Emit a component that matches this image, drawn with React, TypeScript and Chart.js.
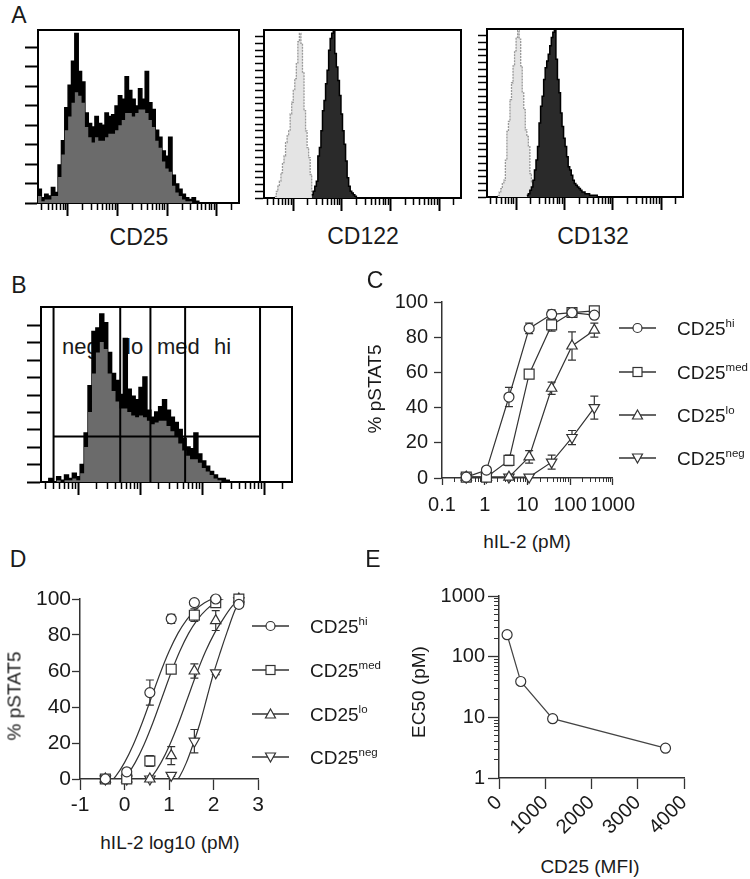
import React, { useEffect, useRef } from "react";
import { Chart, registerables } from "chart.js";

Chart.register(...registerables);

const FONT = "'Liberation Sans', Arial, Helvetica, sans-serif";
const INK = "#1a1a1a";
const LINE = "#333333";

/* ---------------- Panel A: flow-cytometry histograms (% of plot height) ---------------- */
const CD25_BINS = 60;
const CD25_RAW = [8, 3, 5, 4, 9, 6, 22, 36, 55, 68, 82, 98, 76, 70, 52, 46, 44, 50, 46, 45, 52, 50, 51, 56, 62, 60, 73, 65, 60, 56, 66, 60, 76, 58, 54, 42, 38, 30, 27, 38, 16, 11, 8, 5, 3, 2, 3, 1, 0, 0, 0, 0, 0, 0, 0, 0, 0, 0, 0, 0];
const CD25_SMOOTH = [4, 1, 2, 2, 4, 4, 15, 28, 42, 50, 58, 64, 62, 58, 44, 38, 35, 38, 36, 36, 38, 40, 40, 42, 45, 48, 52, 52, 50, 52, 54, 54, 52, 48, 44, 36, 32, 24, 20, 18, 10, 6, 4, 2, 1, 1, 0, 0, 0, 0, 0, 0, 0, 0, 0, 0, 0, 0, 0, 0];

const NARROW_BIN = 2; // channels per bin
const CD122_ISO_START = 14;
const CD122_ISO = [1, 4, 7, 10, 15, 21, 25, 33, 37, 40, 50, 57, 64, 71, 80, 93, 98, 92, 75, 52, 40, 30, 24, 14, 4];
const CD122_START = 62;
const CD122_STAIN = [2, 4, 7, 10, 25, 30, 40, 52, 58, 68, 76, 88, 95, 98, 100, 86, 78, 70, 61, 50, 40, 32, 22, 12, 7, 4, 3, 2, 1];
const CD132_ISO_START = 14;
const CD132_ISO = [1, 3, 5, 8, 10, 22, 39, 45, 58, 68, 78, 87, 95, 99, 94, 78, 62, 52, 40, 36, 30, 14, 9, 3];
const CD132_START = 52;
const CD132_STAIN = [1, 2, 4, 6, 10, 16, 22, 30, 44, 54, 60, 70, 77, 81, 85, 90, 95, 98, 100, 82, 70, 62, 50, 42, 35, 30, 24, 18, 16, 13, 10, 8, 7, 6, 5, 4, 3, 3, 2, 2, 2, 1, 1, 1, 1, 1];

/* ---------------- Panel B: gated CD25 histogram ---------------- */
const GATE_BIN = 4;
const GATE_RAW = [0, 0, 2, 0, 3, 1, 4, 2, 5, 3, 10, 28, 55, 86, 88, 96, 91, 74, 62, 58, 50, 82, 53, 49, 47, 54, 60, 41, 37, 40, 43, 47, 41, 37, 34, 30, 25, 20, 19, 28, 16, 12, 9, 6, 4, 2, 2, 1, 0, 0, 0, 0, 0, 0, 0, 0, 0, 0, 0, 0, 0, 0, 0, 0];
const GATE_SMOOTH = [0, 0, 0, 0, 1, 0, 1, 1, 2, 1, 5, 20, 40, 62, 74, 80, 76, 62, 52, 46, 42, 42, 40, 38, 37, 38, 37, 35, 33, 34, 35, 35, 32, 29, 26, 22, 18, 15, 13, 13, 11, 8, 6, 4, 2, 1, 0, 0, 0, 0, 0, 0, 0, 0, 0, 0, 0, 0, 0, 0, 0, 0, 0, 0];
const GATE_BOUNDS = [12.8, 80.8, 111.6, 147, 223.4];
const GATE_LEVEL = 26;

/* ---------------- Panels C / D: pSTAT5 dose response ---------------- */
const SERIES = ["hi", "med", "lo", "neg"];
const IL2_PM = [0.37, 1.1, 3.7, 11, 37, 111, 370];
const C_HI = [0.5, 4.5, 46, 85, 93, 94, 92.5];
const C_HI_SEM = [0, 0.5, 5.5, 3, 2.5, 1, 1.5];
const C_MED = [0.5, 0.5, 10, 59, 87, 94, 95];
const C_MED_SEM = [0, 0, 3, 1, 3.5, 1, 1];
const C_LO = [0.5, 0.5, 0.5, 12, 51, 75, 84];
const C_LO_SEM = [0, 0, 0, 3.5, 3.5, 8, 4];
const C_NEG = [0.5, 0.5, 0.5, 0.5, 9, 23, 40];
const C_NEG_SEM = [0, 0, 0, 0, 4, 4, 6.5];
const C_X_TICKS = [0.1, 1, 10, 100, 1000];
const PCT_TICKS = [0, 20, 40, 60, 80, 100];

const IL2_LOG = [-0.43, 0.05, 0.57, 1.05, 1.57, 2.05, 2.57];
const D_HI = [0, 4, 48, 89, 98, 100, 97];
const D_HI_SEM = [0, 1.5, 7, 2.5, 0.5, 0.5, 0.5];
const D_MED = [0, 0, 10, 61, 91, 98, 100];
const D_MED_SEM = [0, 0, 3, 1, 3.5, 1, 0.5];
const D_LO = [0, 0, 0, 13, 60, 88, 100];
const D_LO_SEM = [0, 0, 0, 5, 4, 5.5, 0.5];
const D_NEG = [0, 0, 0, 2, 21, 59, 99];
const D_NEG_SEM = [0, 0, 0, 0.5, 6.5, 1, 0.5];
const D_FIT_HI_X = [-0.4, -0.2, 0, 0.2, 0.4, 0.6, 0.8, 1.0, 1.2, 1.4, 1.6, 1.8, 2.0, 2.2];
const D_FIT_HI_Y = [-4, 1.4, 9.1, 19.2, 31.4, 45, 58.6, 70.8, 80.9, 88.6, 94.1, 97.9, 100.4, 102.1];
const D_FIT_MED_X = [-0.16, 0.04, 0.24, 0.44, 0.64, 0.84, 1.04, 1.24, 1.44, 1.64, 1.84, 2.04, 2.24, 2.44];
const D_FIT_MED_Y = [-4, 1.4, 9.1, 19.2, 31.4, 45, 58.6, 70.8, 80.9, 88.6, 94.1, 97.9, 100.4, 102.1];
const D_FIT_LO_X = [0.42, 0.62, 0.82, 1.02, 1.22, 1.42, 1.62, 1.82, 2.02, 2.22, 2.42, 2.62];
const D_FIT_LO_Y = [-4, 1.4, 9.1, 19.2, 31.4, 45, 58.6, 70.8, 80.9, 89, 96, 101];
const D_FIT_NEG_X = [1.08, 1.24, 1.39, 1.54, 1.7, 1.85, 2.0, 2.16, 2.31, 2.47, 2.62];
const D_FIT_NEG_Y = [-4, 1.4, 9.1, 19.2, 31.4, 45, 58.6, 71, 82, 93, 101];
const D_X_TICKS = [-1, 0, 1, 2, 3];

/* ---------------- Panel E: EC50 vs CD25 ---------------- */
const E_CD25_MFI = [175, 470, 1160, 3600];
const E_EC50 = [230, 39, 9.5, 3.1];
const E_X_TICKS = [0, 1000, 2000, 3000, 4000];
const E_Y_TICKS = [1, 10, 100, 1000];

/* ---------------- helpers ---------------- */
const HIST_MIN = 2.5;
const HIST_MAX = 28000;
const tickFont = (size: number) => ({ family: FONT, size });

function logTickValues(min: number, max: number, minor: boolean) {
  const out: number[] = [];
  for (let e = Math.floor(Math.log10(min)); e <= Math.ceil(Math.log10(max)); e++) {
    for (let m = 1; m <= 9; m++) {
      const v = parseFloat((m * Math.pow(10, e)).toPrecision(6));
      if ((m === 1) !== minor && v >= min * 0.999 && v <= max * 1.001) out.push(v);
    }
  }
  return out;
}

function steps(values: number[], start: number, width: number) {
  const pts = values.map((v, i) => ({ x: start + i * width, y: v }));
  pts.push({ x: start + values.length * width, y: 0 });
  return pts;
}

function histSet(values: number[], start: number, width: number, fillColor: string, border: string, bw: number, order: number, dash: number[] = []) {
  return {
    data: steps(values, start, width),
    xAxisID: "xc",
    yAxisID: "y",
    stepped: "before",
    fill: "origin",
    backgroundColor: fillColor,
    borderColor: border,
    borderWidth: bw,
    borderDash: dash,
    pointRadius: 0,
    order,
  };
}

function minorLogAxis(axis: string, position: string, min: number, max: number, len: number, width: number, color: string) {
  return {
    type: "logarithmic",
    axis,
    position,
    min,
    max,
    weight: 0,
    afterBuildTicks: (s: any) => {
      s.ticks = logTickValues(min, max, true).map((v) => ({ value: v }));
    },
    afterFit: (s: any) => {
      if (axis === "x") s.height = 0;
      else s.width = 0;
    },
    ticks: { display: false },
    grid: { drawOnChartArea: false, tickLength: len, tickWidth: width, tickColor: color },
    border: { display: false },
  };
}

function baseOptions(top: number, right: number) {
  return {
    responsive: false,
    maintainAspectRatio: false,
    animation: false,
    events: [],
    layout: { padding: { top, right, left: 0, bottom: 0 } },
    plugins: { legend: { display: false }, tooltip: { enabled: false } },
  };
}

function histogramChart(o: any) {
  const yTicks: number[] = [];
  for (let k = 0; k * o.yStep <= o.yTop + 1e-6; k++) yTicks.push(k * o.yStep);
  return {
    type: "line",
    data: { datasets: o.datasets },
    options: {
      ...baseOptions(2, 4),
      scales: {
        xc: { type: "linear", axis: "x", position: "bottom", min: 0, max: 256, display: false },
        xm: minorLogAxis("x", "bottom", HIST_MIN, HIST_MAX, 7, 1.5, "#000"),
        x: {
          type: "logarithmic",
          axis: "x",
          position: "bottom",
          min: HIST_MIN,
          max: HIST_MAX,
          weight: 1,
          afterBuildTicks: (s: any) => {
            s.ticks = logTickValues(HIST_MIN, HIST_MAX, false).map((v) => ({ value: v }));
          },
          afterFit: (s: any) => {
            s.height = 18;
          },
          ticks: { display: false },
          grid: { drawOnChartArea: false, tickLength: 13, tickWidth: 2, tickColor: "#000" },
          border: { color: "#000", width: 2 },
        },
        xt: {
          type: "linear",
          axis: "x",
          position: "top",
          min: 0,
          max: 1,
          afterFit: (s: any) => {
            s.height = 0;
          },
          ticks: { display: false },
          grid: { display: false },
          border: { color: "#000", width: 2 },
        },
        y: {
          type: "linear",
          axis: "y",
          position: "left",
          min: 0,
          max: 100,
          afterBuildTicks: (s: any) => {
            s.ticks = yTicks.map((v) => ({ value: v }));
          },
          afterFit: (s: any) => {
            s.width = o.leftW;
          },
          ticks: { display: false },
          grid: { drawOnChartArea: false, tickLength: o.yTickLen, tickWidth: o.yTickW, tickColor: "#000" },
          border: { color: "#000", width: 2 },
        },
        yr: {
          type: "linear",
          axis: "y",
          position: "right",
          min: 0,
          max: 100,
          afterFit: (s: any) => {
            s.width = 0;
          },
          ticks: { display: false },
          grid: { display: false },
          border: { color: "#000", width: 2 },
        },
      },
    },
  };
}

const errorBars = {
  id: "errorBars",
  beforeDatasetsDraw(chart: any) {
    const ctx = chart.ctx;
    const ys = chart.scales.y;
    chart.data.datasets.forEach((ds: any, di: number) => {
      if (!ds.sem) return;
      const meta = chart.getDatasetMeta(di);
      ctx.save();
      ctx.strokeStyle = LINE;
      ctx.lineWidth = 1.2;
      ds.sem.forEach((e: number, i: number) => {
        if (!e) return;
        const pt = meta.data[i];
        const v = ds.data[i].y;
        const y1 = ys.getPixelForValue(v + e);
        const y2 = ys.getPixelForValue(v - e);
        ctx.beginPath();
        ctx.moveTo(pt.x, y1);
        ctx.lineTo(pt.x, y2);
        ctx.moveTo(pt.x - 4, y1);
        ctx.lineTo(pt.x + 4, y1);
        ctx.moveTo(pt.x - 4, y2);
        ctx.lineTo(pt.x + 4, y2);
        ctx.stroke();
      });
      ctx.restore();
    });
  },
};

const MARKERS = [
  { pointStyle: "circle", pointRadius: 5, pointRotation: 0 },
  { pointStyle: "rect", pointRadius: 7, pointRotation: 0 },
  { pointStyle: "triangle", pointRadius: 6, pointRotation: 0 },
  { pointStyle: "triangle", pointRadius: 6, pointRotation: 180 },
];

function markerStyle(k: number) {
  return {
    ...MARKERS[k],
    pointBackgroundColor: "#fff",
    pointBorderColor: LINE,
    pointBorderWidth: 1.2,
  };
}

function linearPctAxis(width: number, tickLen: number, pad: number, size: number) {
  return {
    type: "linear",
    position: "left",
    min: 0,
    max: 100,
    afterBuildTicks: (s: any) => {
      s.ticks = PCT_TICKS.map((v) => ({ value: v }));
    },
    afterFit: (s: any) => {
      s.width = width;
    },
    ticks: { font: tickFont(size), color: INK, padding: pad, callback: (v: any) => String(v) },
    grid: { drawOnChartArea: false, tickLength: tickLen, tickWidth: 1.3, tickColor: LINE },
    border: { color: LINE, width: 1.5 },
  };
}

/* ---------------- chart configs ---------------- */
function chartA1() {
  return histogramChart({
    leftW: 14,
    yTickLen: 13,
    yTickW: 2,
    yStep: 11.27,
    yTop: 95,
    datasets: [
      histSet(CD25_RAW, 0, 256 / CD25_BINS, "#000", "#000", 1.5, 2),
      histSet(CD25_SMOOTH, 0, 256 / CD25_BINS, "#6b6b6b", "#6b6b6b", 0, 1),
    ],
  });
}

function chartA2() {
  return histogramChart({
    leftW: 10,
    yTickLen: 9,
    yTickW: 1.5,
    yStep: 4,
    yTop: 97,
    datasets: [
      histSet(CD122_ISO, CD122_ISO_START, NARROW_BIN, "#e4e4e4", "#9a9a9a", 1.3, 2, [2, 1]),
      histSet(CD122_STAIN, CD122_START, NARROW_BIN, "#2a2a2a", "#000", 1.5, 1),
    ],
  });
}

function chartA3() {
  return histogramChart({
    leftW: 10,
    yTickLen: 9,
    yTickW: 1.5,
    yStep: 4,
    yTop: 97,
    datasets: [
      histSet(CD132_ISO, CD132_ISO_START, NARROW_BIN, "#e4e4e4", "#9a9a9a", 1.3, 2, [2, 1]),
      histSet(CD132_STAIN, CD132_START, NARROW_BIN, "#2a2a2a", "#000", 1.5, 1),
    ],
  });
}

function chartB() {
  const gateLine = (pts: any[]) => ({
    data: pts,
    xAxisID: "xc",
    yAxisID: "y",
    borderColor: "#000",
    borderWidth: 2,
    pointRadius: 0,
    fill: false,
    order: 0,
  });
  return histogramChart({
    leftW: 15,
    yTickLen: 14,
    yTickW: 2,
    yStep: 9.93,
    yTop: 90,
    datasets: [
      histSet(GATE_RAW, 0, GATE_BIN, "#000", "#000", 1.5, 2),
      histSet(GATE_SMOOTH, 0, GATE_BIN, "#6b6b6b", "#6b6b6b", 0, 1),
      ...GATE_BOUNDS.map((b) => gateLine([{ x: b, y: 0 }, { x: b, y: 100 }])),
      gateLine([
        { x: GATE_BOUNDS[0], y: GATE_LEVEL },
        { x: GATE_BOUNDS[GATE_BOUNDS.length - 1], y: GATE_LEVEL },
      ]),
    ],
  });
}

function chartC() {
  const vals = [C_HI, C_MED, C_LO, C_NEG];
  const sems = [C_HI_SEM, C_MED_SEM, C_LO_SEM, C_NEG_SEM];
  return {
    type: "line",
    data: {
      datasets: vals.map((v, k) => ({
        label: SERIES[k],
        data: IL2_PM.map((x, i) => ({ x, y: v[i] })),
        sem: sems[k],
        xAxisID: "x",
        yAxisID: "y",
        borderColor: LINE,
        borderWidth: 1.2,
        tension: 0,
        clip: false,
        ...markerStyle(k),
      })),
    },
    options: {
      ...baseOptions(14, 30),
      scales: {
        x: {
          type: "logarithmic",
          position: "bottom",
          min: 0.1,
          max: 1000,
          weight: 1,
          afterBuildTicks: (s: any) => {
            s.ticks = C_X_TICKS.map((v) => ({ value: v }));
          },
          afterFit: (s: any) => {
            s.height = 45;
          },
          ticks: { autoSkip: false, maxRotation: 0, font: tickFont(20), color: INK, padding: 8, callback: (v: any) => String(v) },
          grid: { drawOnChartArea: false, tickLength: 7, tickWidth: 1.3, tickColor: LINE },
          border: { color: LINE, width: 1.5 },
        },
        xm: minorLogAxis("x", "bottom", 0.1, 1000, 4, 1, LINE),
        y: linearPctAxis(80, 8, 6, 20),
      },
    },
    plugins: [errorBars],
  };
}

function chartD() {
  const vals = [D_HI, D_MED, D_LO, D_NEG];
  const sems = [D_HI_SEM, D_MED_SEM, D_LO_SEM, D_NEG_SEM];
  const fits = [
    [D_FIT_HI_X, D_FIT_HI_Y],
    [D_FIT_MED_X, D_FIT_MED_Y],
    [D_FIT_LO_X, D_FIT_LO_Y],
    [D_FIT_NEG_X, D_FIT_NEG_Y],
  ];
  const pointSets = vals.map((v, k) => ({
    label: SERIES[k],
    data: IL2_LOG.map((x, i) => ({ x, y: v[i] })),
    sem: sems[k],
    xAxisID: "x",
    yAxisID: "y",
    showLine: false,
    clip: false,
    ...markerStyle(k),
  }));
  const fitSets = fits.map(([xs, ys], k) => ({
    label: SERIES[k] + " fit",
    data: xs.map((x, i) => ({ x, y: ys[i] })),
    xAxisID: "x",
    yAxisID: "y",
    borderColor: LINE,
    borderWidth: 1.2,
    pointRadius: 0,
    cubicInterpolationMode: "monotone",
    order: 5,
  }));
  return {
    type: "line",
    data: { datasets: [...pointSets, ...fitSets] },
    options: {
      ...baseOptions(14, 30),
      scales: {
        x: {
          type: "linear",
          position: "bottom",
          min: -1,
          max: 3,
          afterBuildTicks: (s: any) => {
            s.ticks = D_X_TICKS.map((v) => ({ value: v }));
          },
          afterFit: (s: any) => {
            s.height = 45;
          },
          ticks: { autoSkip: false, maxRotation: 0, font: tickFont(21), color: INK, padding: 3, callback: (v: any) => String(v) },
          grid: { drawOnChartArea: false, tickLength: 11, tickWidth: 1.3, tickColor: LINE },
          border: { color: LINE, width: 1.5 },
        },
        y: linearPctAxis(75, 8, 1, 21),
      },
    },
    plugins: [errorBars],
  };
}

function chartE() {
  return {
    type: "line",
    data: {
      datasets: [
        {
          label: "EC50",
          data: E_CD25_MFI.map((x, i) => ({ x, y: E_EC50[i] })),
          xAxisID: "x",
          yAxisID: "y",
          borderColor: "#444",
          borderWidth: 1.2,
          tension: 0,
          clip: false,
          pointStyle: "circle",
          pointRadius: 5,
          pointBackgroundColor: "#fff",
          pointBorderColor: LINE,
          pointBorderWidth: 1.2,
        },
      ],
    },
    options: {
      ...baseOptions(14, 35),
      scales: {
        x: {
          type: "linear",
          position: "bottom",
          min: 0,
          max: 4000,
          afterBuildTicks: (s: any) => {
            s.ticks = E_X_TICKS.map((v) => ({ value: v }));
          },
          afterFit: (s: any) => {
            s.height = 65;
          },
          ticks: { autoSkip: false, minRotation: 45, maxRotation: 45, font: tickFont(20), color: INK, padding: 2, callback: (v: any) => String(v) },
          grid: { drawOnChartArea: false, tickLength: 11, tickWidth: 1.3, tickColor: LINE },
          border: { color: LINE, width: 1.5 },
        },
        y: {
          type: "logarithmic",
          position: "left",
          min: 1,
          max: 1000,
          weight: 1,
          afterBuildTicks: (s: any) => {
            s.ticks = E_Y_TICKS.map((v) => ({ value: v }));
          },
          afterFit: (s: any) => {
            s.width = 80;
          },
          ticks: { autoSkip: false, font: tickFont(20), color: INK, padding: 3, callback: (v: any) => String(v) },
          grid: { drawOnChartArea: false, tickLength: 11, tickWidth: 1.3, tickColor: LINE },
          border: { color: LINE, width: 1.5 },
        },
        ym: minorLogAxis("y", "left", 1, 1000, 5, 1, LINE),
      },
    },
  };
}

/* ---------------- components ---------------- */
function ChartCanvas({ left, top, width, height, make }: any) {
  const ref = useRef<HTMLCanvasElement>(null);
  useEffect(() => {
    const chart = new Chart(ref.current as any, make());
    return () => chart.destroy();
  }, []);
  return <canvas ref={ref} width={width} height={height} style={{ position: "absolute", left, top, width, height }} />;
}

function Label({ x, y, size = 20, rotate = false, align = "center", children }: any) {
  const tx = align === "left" ? "0" : "-50%";
  return (
    <div
      style={{
        position: "absolute",
        left: x,
        top: y,
        transform: `translate(${tx},-50%)${rotate ? " rotate(-90deg)" : ""}`,
        fontFamily: FONT,
        fontSize: size,
        lineHeight: 1,
        whiteSpace: "nowrap",
        color: INK,
      }}
    >
      {children}
    </div>
  );
}

function LegendKey({ x, y, k }: any) {
  const c = 18.5;
  let marker: any = null;
  if (k === 0) marker = <circle cx={c} cy={8} r={4.5} fill="#fff" stroke={LINE} strokeWidth={1.2} />;
  if (k === 1) marker = <rect x={c - 4.5} y={3.5} width={9} height={9} fill="#fff" stroke={LINE} strokeWidth={1.2} />;
  if (k === 2) marker = <polygon points={`${c},3 ${c + 5},12 ${c - 5},12`} fill="#fff" stroke={LINE} strokeWidth={1.2} />;
  if (k === 3) marker = <polygon points={`${c},13 ${c + 5},4 ${c - 5},4`} fill="#fff" stroke={LINE} strokeWidth={1.2} />;
  return (
    <svg style={{ position: "absolute", left: x, top: y - 8 }} width={40} height={16}>
      <line x1={0} y1={8} x2={37} y2={8} stroke={LINE} strokeWidth={1.3} />
      {marker}
    </svg>
  );
}

function Legend({ keyX, textX, rows }: any) {
  return (
    <>
      {SERIES.map((s, k) => (
        <React.Fragment key={s}>
          <LegendKey x={keyX} y={rows[k]} k={k} />
          <Label x={textX} y={rows[k]} size={19} align="left">
            CD25
            <span style={{ fontSize: 11.5, position: "relative", top: -8 }}>{s}</span>
          </Label>
        </React.Fragment>
      ))}
    </>
  );
}

export default function App() {
  return (
    <div style={{ position: "absolute", left: 0, top: 0, width: 750, height: 879, background: "#fff", overflow: "hidden" }}>
      <Label x={62} y={347} size={22} align="left">neg</Label>
      <Label x={126} y={347} size={22} align="left">lo</Label>
      <Label x={157} y={347} size={22} align="left">med</Label>
      <Label x={214} y={347} size={22} align="left">hi</Label>

      <ChartCanvas left={24} top={28} width={219} height={193} make={chartA1} />
      <ChartCanvas left={254} top={28} width={211} height={188} make={chartA2} />
      <ChartCanvas left={477} top={27} width={210} height={188} make={chartA3} />
      <ChartCanvas left={26} top={305} width={270} height={195} make={chartB} />
      <ChartCanvas left={362} top={284} width={281} height={239} make={chartC} />
      <ChartCanvas left={5} top={585} width={283} height={239} make={chartD} />
      <ChartCanvas left={419} top={581} width={300} height={262} make={chartE} />

      <Label x={19} y={15} size={23}>A</Label>
      <Label x={19} y={285} size={23}>B</Label>
      <Label x={375} y={280} size={23}>C</Label>
      <Label x={18} y={559} size={23}>D</Label>
      <Label x={373} y={559} size={23}>E</Label>

      <Label x={139} y={237} size={23}>CD25</Label>
      <Label x={363} y={236} size={23}>CD122</Label>
      <Label x={593} y={236} size={23}>CD132</Label>

      <Label x={374} y={389} size={19} rotate>% pSTAT5</Label>
      <Label x={527} y={541} size={19}>hIL-2 (pM)</Label>
      <Legend keyX={619} textX={677} rows={[328, 372, 415, 458]} />

      <Label x={14} y={696} size={19} rotate>% pSTAT5</Label>
      <Label x={170} y={842} size={19}>hIL-2 log10 (pM)</Label>
      <Legend keyX={252} textX={310} rows={[626, 670, 714, 757]} />

      <Label x={418} y={692} size={19} rotate>EC50 (pM)</Label>
      <Label x={590} y={866} size={19}>CD25 (MFI)</Label>
    </div>
  );
}
